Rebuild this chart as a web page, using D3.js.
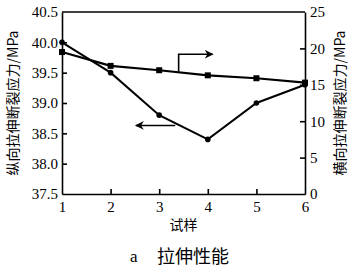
<!DOCTYPE html>
<head>
    <meta charset="utf-8">
    <style>
        body { margin: 0; background: #fff; }
        .tick text { font-family: "Liberation Serif", serif; font-size: 15px; fill: #000; }
        .domain, .tick line { stroke: #000; stroke-width: 1.6px; }
        .cjk { font-family: "Noto Sans CJK SC", sans-serif; fill: #000; }
    </style>
</head>
<body>
    <script src="https://d3js.org/d3.v7.min.js"></script>
    <script>

        // data
        var samples = [1, 2, 3, 4, 5, 6];
        var longStress = [40.0, 39.5, 38.8, 38.4, 39.0, 39.3];   // left axis, circles
        var transStress = [19.5, 17.6, 17.0, 16.3, 15.9, 15.3]; // right axis, squares
        var leftTicks = [37.5, 38.0, 38.5, 39.0, 39.5, 40.0, 40.5];
        var rightTicks = [0, 5, 10, 15, 20, 25];
        // arrow annotations in data coords
        var arrowRight = [[3.4, 16.8], [3.4, 19.2], [4.1, 19.2]];   // right axis
        var arrowLeft = [[3.33, 38.63], [2.52, 38.63]];            // left axis

        var margin = {top: 12, right: 55, bottom: 76, left: 62},
            width = 360 - margin.left - margin.right,
            height = 270 - margin.top - margin.bottom;

        var x = d3.scaleLinear().domain([1, 6]).range([0, width]);
        var yL = d3.scaleLinear().domain([37.5, 40.5]).range([height, 0]);
        var yR = d3.scaleLinear().domain([0, 25]).range([height, 0]);

        var svg = d3.select("body")
            .append("svg")
            .attr("width", 360)
            .attr("height", 270)
            .append("g")
            .attr("transform", "translate(" + margin.left + "," + margin.top + ")");

        // arrowhead
        svg.append("defs").append("marker")
            .attr("id", "head")
            .attr("viewBox", "0 0 10 10")
            .attr("refX", 9).attr("refY", 5)
            .attr("markerWidth", 5.5).attr("markerHeight", 5.5)
            .attr("markerUnits", "strokeWidth")
            .attr("orient", "auto")
            .append("path")
            .attr("d", "M0,0 L10,5 L0,10 L3,5 Z")
            .attr("fill", "#000");

        // top border
        svg.append("line")
            .attr("x1", 0).attr("x2", width)
            .attr("y1", 0).attr("y2", 0)
            .attr("stroke", "#000").attr("stroke-width", 1.6);

        // axes
        svg.append("g")
            .attr("transform", "translate(0," + height + ")")
            .call(d3.axisBottom(x).tickValues(samples).tickSize(-5).tickSizeOuter(0).tickPadding(7)
                .tickFormat(d3.format("d")));
        svg.append("g")
            .call(d3.axisLeft(yL).tickValues(leftTicks).tickSize(-5).tickSizeOuter(0).tickPadding(4)
                .tickFormat(d3.format(".1f")));
        svg.append("g")
            .attr("transform", "translate(" + width + ",0)")
            .call(d3.axisRight(yR).tickValues(rightTicks).tickSize(-5).tickSizeOuter(0).tickPadding(5));

        // remove ticks at the corners
        svg.selectAll(".tick line").filter(function(d) {
            return d === 1 || d === 6 || d === 37.5 || d === 40.5 || d === 0 || d === 25;
        }).remove();

        var lineL = d3.line()
            .x(function(d, i) { return x(samples[i]); })
            .y(function(d) { return yL(d); });
        var lineR = d3.line()
            .x(function(d, i) { return x(samples[i]); })
            .y(function(d) { return yR(d); });

        svg.append("path")
            .datum(longStress)
            .attr("fill", "none").attr("stroke", "#000").attr("stroke-width", 2)
            .attr("d", lineL);
        svg.append("path")
            .datum(transStress)
            .attr("fill", "none").attr("stroke", "#000").attr("stroke-width", 2.2)
            .attr("d", lineR);

        svg.selectAll(".dot")
            .data(longStress)
            .enter().append("circle")
            .attr("r", 2.8)
            .attr("cx", function(d, i) { return x(samples[i]); })
            .attr("cy", function(d) { return yL(d); })
            .attr("fill", "#000");

        svg.selectAll(".sq")
            .data(transStress)
            .enter().append("rect")
            .attr("width", 6).attr("height", 6)
            .attr("x", function(d, i) { return x(samples[i]) - 3; })
            .attr("y", function(d) { return yR(d) - 3; })
            .attr("fill", "#000");

        // arrows
        svg.append("path")
            .datum(arrowRight)
            .attr("fill", "none").attr("stroke", "#000").attr("stroke-width", 1.6)
            .attr("marker-end", "url(#head)")
            .attr("d", d3.line().x(function(d) { return x(d[0]); }).y(function(d) { return yR(d[1]); }));
        svg.append("path")
            .datum(arrowLeft)
            .attr("fill", "none").attr("stroke", "#000").attr("stroke-width", 1.6)
            .attr("marker-end", "url(#head)")
            .attr("d", d3.line().x(function(d) { return x(d[0]); }).y(function(d) { return yL(d[1]); }));

        // titles
        svg.append("text")
            .attr("class", "cjk")
            .attr("transform", "translate(-44," + (height / 2) + ") rotate(-90)")
            .attr("text-anchor", "middle")
            .attr("font-size", 14)
            .text("纵向拉伸断裂应力/MPa");
        svg.append("text")
            .attr("class", "cjk")
            .attr("transform", "translate(" + (width + 40) + "," + (height / 2) + ") rotate(-90)")
            .attr("text-anchor", "middle")
            .attr("font-size", 14)
            .text("横向拉伸断裂应力/MPa");
        svg.append("text")
            .attr("class", "cjk")
            .attr("x", x(3.5))
            .attr("y", height + 36)
            .attr("text-anchor", "middle")
            .attr("font-size", 14)
            .text("试样");
        svg.append("text")
            .attr("x", 68)
            .attr("y", height + 68)
            .attr("font-family", "Liberation Serif, serif")
            .attr("font-size", 17)
            .text("a");
        svg.append("text")
            .attr("class", "cjk")
            .attr("x", 95)
            .attr("y", height + 69)
            .attr("font-size", 18)
            .text("拉伸性能");

    </script>
</body>
